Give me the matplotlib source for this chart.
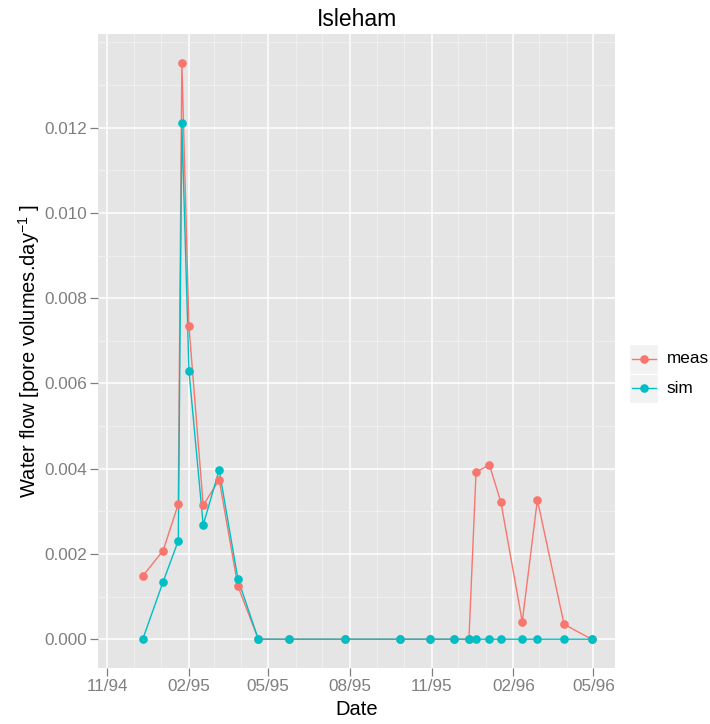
#!/usr/bin/env python3

import numpy as np
import matplotlib
matplotlib.use("Agg")
import matplotlib.pyplot as plt
import matplotlib.dates as mdates
from matplotlib.lines import Line2D
from matplotlib.patches import Rectangle
from matplotlib.ticker import FixedLocator, FormatStrFormatter

plt.rcParams['font.family'] = ['Liberation Sans', 'DejaVu Sans']
plt.rcParams['mathtext.fontset'] = 'custom'
plt.rcParams['mathtext.rm'] = 'Liberation Sans'
plt.rcParams['mathtext.it'] = 'Liberation Sans'

# sampling dates (shared by both series)
dates = np.array([
    '1994-12-11', '1995-01-03', '1995-01-20', '1995-01-24', '1995-02-01',
    '1995-02-17', '1995-03-07', '1995-03-28', '1995-04-20', '1995-05-24',
    '1995-07-27', '1995-09-26', '1995-10-30', '1995-11-26', '1995-12-13',
    '1995-12-21', '1996-01-05', '1996-01-18', '1996-02-11', '1996-02-28',
    '1996-03-29', '1996-04-29'], dtype='datetime64[D]')

# water flow [pore volumes / day]
meas = [0.00148, 0.00208, 0.00317, 0.01352, 0.00734,
        0.00314, 0.00374, 0.00125, 0.0, 0.0,
        0.0, 0.0, 0.0, 0.0, 0.0,
        0.00392, 0.00409, 0.00321, 0.00041, 0.00327,
        0.00035, 0.0]
sim = [0.0, 0.00135, 0.00231, 0.0121, 0.00629,
       0.00268, 0.00397, 0.00142, 0.0, 0.0,
       0.0, 0.0, 0.0, 0.0, 0.0,
       0.0, 0.0, 0.0, 0.0, 0.0,
       0.0, 0.0]

series_names = ['meas', 'sim']
series_colors = ['#F8766D', '#00BFC4']

y_major = [0.000, 0.002, 0.004, 0.006, 0.008, 0.010, 0.012]
y_minor = [0.001, 0.003, 0.005, 0.007, 0.009, 0.011, 0.013, 0.014]
x_limits = np.array(['1994-10-22', '1996-05-25'], dtype='datetime64[D]')

fig = plt.figure(figsize=(7.1, 7.24), dpi=100)
ax = fig.add_axes([98.3 / 710, 1 - 668 / 724, (614.7 - 98.3) / 710, (668 - 34) / 724])
ax.set_facecolor('#E5E5E5')
for s in ax.spines.values():
    s.set_visible(False)

# lines first, then points (ggplot layer order)
for vals, col in zip([meas, sim], series_colors):
    ax.plot(dates, vals, color=col, lw=1.0, zorder=3)
for vals, col in zip([meas, sim], series_colors):
    ax.plot(dates, vals, 'o', color=col, ms=5.2, mec=col, zorder=4)

ax.set_xlim(x_limits[0], x_limits[1])
ymax = max(max(meas), max(sim))
pad = ymax * 0.05
ax.set_ylim(-pad, ymax + pad)

ax.xaxis.set_major_locator(mdates.MonthLocator(bymonth=[2, 5, 8, 11]))
ax.xaxis.set_minor_locator(mdates.MonthLocator())
ax.xaxis.set_major_formatter(mdates.DateFormatter('%m/%y'))
ax.yaxis.set_major_locator(FixedLocator(y_major))
ax.yaxis.set_minor_locator(FixedLocator(y_minor))
ax.yaxis.set_major_formatter(FormatStrFormatter('%.3f'))

ax.set_axisbelow(True)
ax.grid(which='major', color='white', lw=1.1)
ax.grid(which='minor', color='#F2F2F2', lw=0.6)
ax.tick_params(which='major', length=5.5, width=0.9, color='#7F7F7F',
               labelcolor='#7F7F7F', labelsize=12.3, pad=2.5)
ax.tick_params(which='minor', length=0)

ax.set_xlabel('Date', fontsize=14.5, labelpad=4)
ax.set_ylabel(r'Water flow [pore volumes.day$^{-1}$ ]', fontsize=14.5, labelpad=1.5)
ax.set_title('Isleham', fontsize=16.5, pad=6)

# legend drawn as ggplot-style keys
key_w, key_h = 29 / 710, 29.5 / 724
key_x = 629 / 710
key_top = 1 - 344 / 724
for i, (name, col) in enumerate(zip(series_names, series_colors)):
    y0 = key_top - (i + 1) * key_h
    fig.patches.append(Rectangle((key_x, y0), key_w, key_h, transform=fig.transFigure,
                                 facecolor='#F2F2F2', edgecolor='white', lw=1.0))
    fig.lines.append(Line2D([key_x + 2.5 / 710, key_x + key_w - 2.5 / 710],
                            [y0 + key_h / 2] * 2, transform=fig.transFigure,
                            color=col, lw=1.0))
    fig.lines.append(Line2D([key_x + key_w / 2], [y0 + key_h / 2], transform=fig.transFigure,
                            color=col, marker='o', ms=5.2, lw=0))
    fig.text(666.5 / 710, y0 + key_h / 2, name, fontsize=12.3, va='center', ha='left')

fig.savefig('out.png', dpi=100)
